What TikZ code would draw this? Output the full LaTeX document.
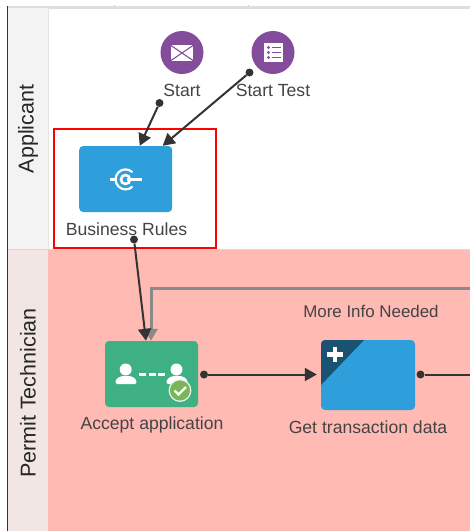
\documentclass[tikz,border=0pt]{standalone}
\usepackage{fontspec}
\setmainfont{Liberation Sans}
\usetikzlibrary{arrows.meta}
\definecolor{txt}{HTML}{444444}
\definecolor{flow}{HTML}{333333}
\definecolor{flowgray}{HTML}{8A8A8A}
\definecolor{taskblue}{HTML}{2F9FDC}
\definecolor{taskgreen}{HTML}{3EB083}
\definecolor{evpurple}{HTML}{834D9B}
\definecolor{pinkfill}{HTML}{FFBAB4}
\definecolor{cornerblue}{HTML}{1A5272}
\definecolor{checkgreen}{HTML}{7AB55C}
\definecolor{laneone}{HTML}{F3F3F3}
\definecolor{lanetwo}{HTML}{F2E6E4}
\tikzset{
  task/.style={rectangle,rounded corners=4pt,inner sep=0pt,minimum width=93pt,minimum height=66pt},
  event/.style={circle,fill=evpurple,inner sep=0pt,minimum size=43pt},
  lbl/.style={text=txt,font=\fontsize{17.6}{20}\selectfont,inner sep=0pt},
  lanelbl/.style={text=black!85,font=\fontsize{21.5}{24}\selectfont,inner sep=0pt,rotate=90},
  dot/.style={circle,fill=flow,inner sep=0pt,minimum size=8pt},
  seq/.style={draw=flow,line width=2pt,-{Triangle[length=12pt,width=13pt]}},
  seqplain/.style={draw=flow,line width=2pt},
  back/.style={draw=flowgray,line width=3pt,-{Triangle[length=12pt,width=13pt]}},
  icon/.style={draw=white,line width=2.2pt}
}
\begin{document}
\begin{tikzpicture}[x=1pt,y=-1pt]
\useasboundingbox (0,0) rectangle (470,531);
% lanes
\fill[white] (0,0) rectangle (470,531);
\fill[black!13] (8,6) rectangle (470,8.5);
\fill[black!22] (114,4.5) rectangle (115,6);
\fill[black!22] (248,4.5) rectangle (249,6);
\fill[laneone] (8,8) rectangle (48,249);
\fill[lanetwo] (8,250) rectangle (48,531);
\fill[pinkfill] (48,250) rectangle (470,531);
\draw[black!10,line width=1pt] (48,8) -- (48,249);
\draw[black!15,line width=1pt] (8,249.5) -- (470,249.5);
\draw[black!80,line width=1.4pt] (7.5,6) -- (7.5,531);
\node[lanelbl] (applicant) at (28,129) {Applicant};
\node[lanelbl] (permit) at (28,393) {Permit Technician};
% red selection
\node[draw=red,line width=2.4pt,inner sep=0pt,minimum width=162pt,minimum height=119pt] (sel) at (135,188.5) {};
% tasks
\node[task,fill=taskblue] (rules) at (125.7,179) {};
\node[task,fill=taskgreen] (accept) at (151.5,374) {};
\node[task,fill=taskblue,minimum height=70pt,minimum width=94pt] (get) at (368,375) {};
\node[event] (start) at (182,52.5) {};
\node[event] (test) at (273,52.5) {};
% envelope icon
\fill[white] (171,45) rectangle (193,61);
\draw[evpurple,line width=1.1pt] (171,45.5) -- (182,53) -- (193,45.5) (171,60.5) -- (182,53) -- (193,60.5);
% form icon
\fill[white] (264,43) rectangle (283,62);
\foreach \yy in {47.5,52.5,57.5}{
  \fill[evpurple] (268.5,\yy) circle (1.6pt);
  \draw[evpurple,line width=1.7pt] (271.5,\yy) -- (280.5,\yy);
}
% rules icon
\draw[icon] (110,179.5) -- (115,179.5);
\draw[icon] (127,179.5) -- (142,179.5);
\draw[icon,line width=2.6pt] (125.5,179.5) circle (4.5pt);
\draw[icon] (132.5,172.2) arc[start angle=46,end angle=314,radius=10pt];
% accept icon
\fill[white] (125.7,369.5) circle (6pt);
\fill[white,rounded corners=2.5pt] (115,384) -- (116,379) -- (121,376) -- (131,376) -- (136,379) -- (137,384) -- cycle;
\fill[white] (176.5,369.5) circle (6pt);
\fill[white,rounded corners=2.5pt] (166,384) -- (167,379) -- (172,376) -- (182,376) -- (187,379) -- (188,384) -- cycle;
\foreach \xx in {139,149,158}{ \fill[white] (\xx,372.6) rectangle ++(7,3); }
\filldraw[fill=checkgreen,draw=white!85!checkgreen,line width=1.2pt] (180,390.5) circle (10.8pt);
\draw[white,line width=2.2pt] (174.5,390.5) -- (178.5,394.5) -- (186,387);
% get icon
\begin{scope}
  \clip[rounded corners=4pt] (321,340) rectangle (415,410);
  \fill[cornerblue] (321,340) -- (364,340) -- (321,385) -- cycle;
\end{scope}
\fill[white] (332.8,346.5) rectangle (337.3,362);
\fill[white] (327,352) rectangle (343,356.5);
% labels
\node[lbl] (startl) at (182,90.5) {Start};
\node[lbl] (testl) at (273,90.5) {Start Test};
\node[lbl] (rulesl) at (126.5,229.5) {Business Rules};
\node[lbl] (acceptl) at (152,424.5) {Accept application};
\node[lbl] (getl) at (368,427) {Get transaction data};
\node[lbl,font=\fontsize{16.9}{20}\selectfont] (more) at (371,311) {More Info Needed};
% connector ends
\node[dot] (d1) at (159.5,103) {};
\node[dot] (d2) at (249.5,72.5) {};
\node[dot] (d3) at (134,239.5) {};
\node[dot] (d4) at (204,374.5) {};
\node[dot] (d5) at (420.5,374.5) {};
\coordinate (e5) at (470,374.5);
\coordinate (b0) at (470,288);
\coordinate (b1) at (151,288);
% connectors
\draw[back] (b0) -- (b1) -- (b1 |- accept.north);
\draw[seq] (d1) -- ([xshift=14pt]rules.north);
\draw[seq] (d2) -- ([xshift=37pt]rules.north);
\draw[seq] (d3) -- ([xshift=-5.5pt]accept.north);
\draw[seq] (d4) -- ([xshift=-4pt]get.west |- d4);
\draw[seqplain] (d5) -- (e5);
\end{tikzpicture}
\end{document}
